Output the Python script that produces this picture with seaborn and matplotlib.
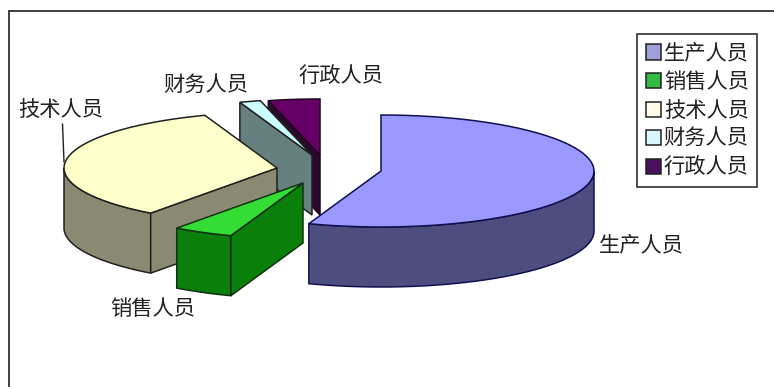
import numpy as np
import matplotlib
matplotlib.use("Agg")
import matplotlib.pyplot as plt
from matplotlib.patches import Patch, Polygon
import seaborn as sns

# Staff composition, percent of headcount
categories = ["生产人员", "销售人员", "技术人员", "财务人员", "行政人员"]
shares = [55.5, 4.6, 34.4, 1.6, 3.9]

top_colors = ["#9999ff", "#33dd33", "#ffffcc", "#ccffff", "#660066"]
side_colors = ["#4d4d80", "#0a800a", "#8a8a72", "#668080", "#2a0a2a"]
swatch_colors = ["#a0a0d8", "#33bb44", "#fffbe6", "#d8f6fb", "#4a1060"]
edge_colors = ["#101050", "#103010", "#202020", "#202020", "#200020"]

# Pie layout in pixels: unexploded centre, ellipse radii, extrusion depth
CENTER = (381.0, 171.0)
RX, RY = 213.0, 56.0
DEPTH = 60.0
# Per-slice explosion offset from the pie centre
explode = [(0, 0), (-78, 12), (-104, -3), (-69, -16), (-61, -16)]
# Slice order in which overlapping pieces get painted, back to front
paint_order = [4, 3, 2, 1, 0]

label_pos = [(641, 245), (153, 309), (61, 110), (206, 86), (341, 77)]

sns.set_theme(style="white")
plt.rcParams["font.family"] = ["Noto Sans CJK SC", "DejaVu Sans"]

fig = plt.figure(figsize=(7.74, 3.87), dpi=100, facecolor="white")
ax = fig.add_axes([0, 0, 1, 1])
ax.set_xlim(0, 774)
ax.set_ylim(387, 0)
ax.axis("off")


def arc(cx, cy, start, stop, n=60):
    """Points on the ellipse, angles in degrees clockwise from 12 o'clock."""
    t = np.radians(np.linspace(start, stop, n))
    return np.column_stack([cx + RX * np.sin(t), cy - RY * np.cos(t)])


def shift(points):
    return points + np.array([0.0, DEPTH])


def draw_slice(ax, start, stop, offset, top, side, edge, z):
    cx, cy = CENTER[0] + offset[0], CENTER[1] + offset[1]
    apex = np.array([[cx, cy]])
    rim = arc(cx, cy, start, stop)

    # Outer wall: only the lower half of the rim (90 to 270 degrees) is seen
    lo, hi = max(start, 90), min(stop, 270)
    if lo < hi:
        wall = arc(cx, cy, lo, hi)
        ax.add_patch(Polygon(np.vstack([wall, shift(wall)[::-1]]), closed=True,
                             fc=side, ec=edge, lw=1.1, zorder=z))

    # Cut face along the start edge shows on slices in the left half
    if np.sin(np.radians(start)) < 0:
        edge_pt = arc(cx, cy, start, start, 1)
        quad = np.vstack([apex, edge_pt, shift(edge_pt), shift(apex)])
        ax.add_patch(Polygon(quad, closed=True, fc=side, ec=edge, lw=1.1, zorder=z + 0.2))

    ax.add_patch(Polygon(np.vstack([apex, rim]), closed=True, fc=top, ec=edge,
                         lw=1.1, zorder=z + 0.5))


bounds = np.cumsum([0.0] + shares) / sum(shares) * 360.0
for rank, i in enumerate(paint_order):
    draw_slice(ax, bounds[i], bounds[i + 1], explode[i],
               top_colors[i], side_colors[i], edge_colors[i], 2 + rank)

# Chart frame: only the top and left rules fall inside the canvas
ax.axvline(9, ymin=0, ymax=1 - 11 / 387, color="#303030", lw=1.3, zorder=1)
ax.axhline(11, xmin=9 / 774, xmax=1, color="#303030", lw=1.3, zorder=1)

# Leader line for the technical staff label
ax.plot([62.5, 64.0], [124, 162], color="#202020", lw=1.0, zorder=10)

for name, (x, y) in zip(categories, label_pos):
    ax.text(x, y, name, ha="center", va="center", fontsize=15.3,
            color="#222222", zorder=12)

handles = [Patch(facecolor=c, edgecolor="#202020", lw=1.1) for c in swatch_colors]
legend = ax.legend(
    handles, categories, loc="upper left",
    bbox_to_anchor=(637 / 774, 1 - 34 / 387),
    fontsize=15.3, frameon=True, fancybox=False, framealpha=1,
    edgecolor="#303030", borderpad=0.4, labelspacing=0.31,
    handlelength=0.72, handleheight=0.72, handletextpad=0.14, borderaxespad=0,
    labelcolor="#222222",
)
legend.get_frame().set_linewidth(1.2)
legend.set_zorder(15)

fig.savefig("out.png", dpi=100, facecolor="white")
